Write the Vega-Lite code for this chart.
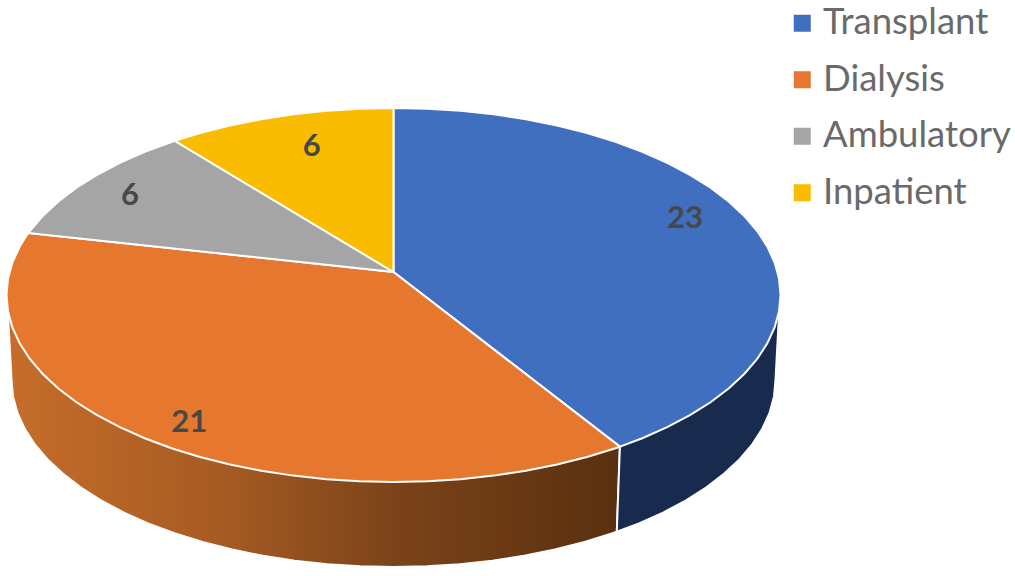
{"$schema":"https://vega.github.io/schema/vega-lite/v6.json","width":1015,"height":576,"padding":0,"autosize":{"type":"none"},"background":"white","config":{"view":{"stroke":null}},
"datasets":{
"sideDialysis":[{"i":0,"x":58.5,"y":-81.1},{"i":1,"x":57.7,"y":-126.6},{"i":2,"x":56.61,"y":-127.42},{"i":3,"x":49.35,"y":-132.1},{"i":4,"x":41.71,"y":-136.13},{"i":5,"x":33.76,"y":-139.47},{"i":6,"x":25.54,"y":-142.09},{"i":7,"x":17.13,"y":-143.98},{"i":8,"x":8.61,"y":-145.12},{"i":9,"x":0,"y":-145.5},{"i":10,"x":-8.61,"y":-145.12},{"i":11,"x":-17.13,"y":-143.98},{"i":12,"x":-25.54,"y":-142.09},{"i":13,"x":-33.76,"y":-139.47},{"i":14,"x":-41.71,"y":-136.13},{"i":15,"x":-49.35,"y":-132.1},{"i":16,"x":-56.61,"y":-127.42},{"i":17,"x":-63.44,"y":-122.1},{"i":18,"x":-69.79,"y":-116.21},{"i":19,"x":-75.6,"y":-109.78},{"i":20,"x":-80.86,"y":-102.86},{"i":21,"x":-85.47,"y":-95.5},{"i":22,"x":-89.45,"y":-87.76},{"i":23,"x":-92.75,"y":-79.7},{"i":24,"x":-95.33,"y":-71.38},{"i":25,"x":-97.2,"y":-62.86},{"i":26,"x":-98.32,"y":-54.22},{"i":27,"x":-98.7,"y":-45.5},{"i":28,"x":-99.6,"y":-11},{"i":29,"x":-99.6,"y":0},{"i":30,"x":0,"y":0}],
"sideTransplant":[{"i":0,"x":58.5,"y":-81.1},{"i":1,"x":57.7,"y":-126.6},{"i":2,"x":63.44,"y":-122.1},{"i":3,"x":69.79,"y":-116.21},{"i":4,"x":75.6,"y":-109.78},{"i":5,"x":80.86,"y":-102.86},{"i":6,"x":85.47,"y":-95.5},{"i":7,"x":89.45,"y":-87.76},{"i":8,"x":92.75,"y":-79.7},{"i":9,"x":95.33,"y":-71.38},{"i":10,"x":97.2,"y":-62.86},{"i":11,"x":98.32,"y":-54.22},{"i":12,"x":98.7,"y":-45.5},{"i":13,"x":99.6,"y":-11},{"i":14,"x":99.6,"y":0},{"i":15,"x":0,"y":0}],
"top":[
{"s":"Transplant","i":0,"x":0,"y":12.3},{"s":"Transplant","i":1,"x":0,"y":100},{"s":"Transplant","i":2,"x":8.72,"y":99.62},{"s":"Transplant","i":3,"x":17.36,"y":98.48},{"s":"Transplant","i":4,"x":25.88,"y":96.59},{"s":"Transplant","i":5,"x":34.2,"y":93.97},{"s":"Transplant","i":6,"x":42.26,"y":90.63},{"s":"Transplant","i":7,"x":50,"y":86.6},{"s":"Transplant","i":8,"x":57.36,"y":81.92},{"s":"Transplant","i":9,"x":64.28,"y":76.6},{"s":"Transplant","i":10,"x":70.71,"y":70.71},{"s":"Transplant","i":11,"x":76.6,"y":64.28},{"s":"Transplant","i":12,"x":81.92,"y":57.36},{"s":"Transplant","i":13,"x":86.6,"y":50},{"s":"Transplant","i":14,"x":90.63,"y":42.26},{"s":"Transplant","i":15,"x":93.97,"y":34.2},{"s":"Transplant","i":16,"x":96.59,"y":25.88},{"s":"Transplant","i":17,"x":98.48,"y":17.36},{"s":"Transplant","i":18,"x":99.62,"y":8.72},{"s":"Transplant","i":19,"x":100,"y":0},{"s":"Transplant","i":20,"x":99.62,"y":-8.72},{"s":"Transplant","i":21,"x":98.48,"y":-17.36},{"s":"Transplant","i":22,"x":96.59,"y":-25.88},{"s":"Transplant","i":23,"x":93.97,"y":-34.2},{"s":"Transplant","i":24,"x":90.63,"y":-42.26},{"s":"Transplant","i":25,"x":86.6,"y":-50},{"s":"Transplant","i":26,"x":81.92,"y":-57.36},{"s":"Transplant","i":27,"x":76.6,"y":-64.28},{"s":"Transplant","i":28,"x":70.71,"y":-70.71},{"s":"Transplant","i":29,"x":64.28,"y":-76.6},{"s":"Transplant","i":30,"x":58.5,"y":-81.1},
{"s":"Dialysis","i":0,"x":0,"y":12.3},{"s":"Dialysis","i":1,"x":58.5,"y":-81.1},{"s":"Dialysis","i":2,"x":57.36,"y":-81.92},{"s":"Dialysis","i":3,"x":50,"y":-86.6},{"s":"Dialysis","i":4,"x":42.26,"y":-90.63},{"s":"Dialysis","i":5,"x":34.2,"y":-93.97},{"s":"Dialysis","i":6,"x":25.88,"y":-96.59},{"s":"Dialysis","i":7,"x":17.36,"y":-98.48},{"s":"Dialysis","i":8,"x":8.72,"y":-99.62},{"s":"Dialysis","i":9,"x":0,"y":-100},{"s":"Dialysis","i":10,"x":-8.72,"y":-99.62},{"s":"Dialysis","i":11,"x":-17.36,"y":-98.48},{"s":"Dialysis","i":12,"x":-25.88,"y":-96.59},{"s":"Dialysis","i":13,"x":-34.2,"y":-93.97},{"s":"Dialysis","i":14,"x":-42.26,"y":-90.63},{"s":"Dialysis","i":15,"x":-50,"y":-86.6},{"s":"Dialysis","i":16,"x":-57.36,"y":-81.92},{"s":"Dialysis","i":17,"x":-64.28,"y":-76.6},{"s":"Dialysis","i":18,"x":-70.71,"y":-70.71},{"s":"Dialysis","i":19,"x":-76.6,"y":-64.28},{"s":"Dialysis","i":20,"x":-81.92,"y":-57.36},{"s":"Dialysis","i":21,"x":-86.6,"y":-50},{"s":"Dialysis","i":22,"x":-90.63,"y":-42.26},{"s":"Dialysis","i":23,"x":-93.97,"y":-34.2},{"s":"Dialysis","i":24,"x":-96.59,"y":-25.88},{"s":"Dialysis","i":25,"x":-98.48,"y":-17.36},{"s":"Dialysis","i":26,"x":-99.62,"y":-8.72},{"s":"Dialysis","i":27,"x":-100,"y":0},{"s":"Dialysis","i":28,"x":-99.62,"y":8.72},{"s":"Dialysis","i":29,"x":-98.48,"y":17.36},{"s":"Dialysis","i":30,"x":-96.59,"y":25.88},{"s":"Dialysis","i":31,"x":-94.4,"y":33.2},
{"s":"Ambulatory","i":0,"x":0,"y":12.3},{"s":"Ambulatory","i":1,"x":-94.4,"y":33.2},{"s":"Ambulatory","i":2,"x":-93.97,"y":34.2},{"s":"Ambulatory","i":3,"x":-90.63,"y":42.26},{"s":"Ambulatory","i":4,"x":-86.6,"y":50},{"s":"Ambulatory","i":5,"x":-81.92,"y":57.36},{"s":"Ambulatory","i":6,"x":-76.6,"y":64.28},{"s":"Ambulatory","i":7,"x":-70.71,"y":70.71},{"s":"Ambulatory","i":8,"x":-64.28,"y":76.6},{"s":"Ambulatory","i":9,"x":-56.5,"y":82.4},
{"s":"Inpatient","i":0,"x":0,"y":12.3},{"s":"Inpatient","i":1,"x":-56.5,"y":82.4},{"s":"Inpatient","i":2,"x":-50,"y":86.6},{"s":"Inpatient","i":3,"x":-42.26,"y":90.63},{"s":"Inpatient","i":4,"x":-34.2,"y":93.97},{"s":"Inpatient","i":5,"x":-25.88,"y":96.59},{"s":"Inpatient","i":6,"x":-17.36,"y":98.48},{"s":"Inpatient","i":7,"x":-8.72,"y":99.62},{"s":"Inpatient","i":8,"x":0,"y":100}],
"labels":[{"s":"Transplant","v":23,"x":75.3,"y":41.7},{"s":"Dialysis","v":21,"x":-52.8,"y":-67.4},{"s":"Ambulatory","v":6,"x":-68.1,"y":54},{"s":"Inpatient","v":6,"x":-21.1,"y":79.7}]
},
"encoding":{
"x":{"field":"x","type":"quantitative","axis":null,"scale":{"domain":[-101.68,160.59],"nice":false,"zero":false}},
"y":{"field":"y","type":"quantitative","axis":null,"scale":{"domain":[-150.27,157.75],"nice":false,"zero":false}}
},
"layer":[
{"data":{"name":"sideDialysis"},"mark":{"type":"line","interpolate":"linear-closed","stroke":"white","strokeWidth":2,"fill":{"gradient":"linear","x1":0,"y1":0,"x2":1,"y2":0,"stops":[{"offset":0,"color":"#C66D2B"},{"offset":0.35,"color":"#A65B22"},{"offset":0.63,"color":"#7C431A"},{"offset":1,"color":"#59300F"}]}},"encoding":{"order":{"field":"i","type":"quantitative"}}},
{"data":{"name":"sideTransplant"},"mark":{"type":"line","interpolate":"linear-closed","stroke":"white","strokeWidth":2,"fill":"#182B4E"},"encoding":{"order":{"field":"i","type":"quantitative"}}},
{"data":{"name":"top"},"mark":{"type":"line","interpolate":"linear-closed","stroke":"white","strokeWidth":2},"encoding":{"order":{"field":"i","type":"quantitative"},
"fill":{"field":"s","type":"nominal","scale":{"domain":["Transplant","Dialysis","Ambulatory","Inpatient"],"range":["#416FBF","#E5782E","#A5A5A5","#F9BC00"]},
"legend":{"title":null,"orient":"none","legendX":784,"legendY":5,"padding":0,"symbolType":"square","symbolSize":289,"symbolStrokeWidth":0,"symbolOpacity":1,"labelFont":"Lato","labelFontSize":36.5,"labelColor":"#6A6A6A","labelOffset":2.5,"rowPadding":19.5,"labelLimit":300}}}},
{"data":{"name":"labels"},"mark":{"type":"text","font":"Lato","fontWeight":"bold","fontSize":31,"fill":"#484848","align":"center","baseline":"middle","dy":1.5},"encoding":{"text":{"field":"v","type":"quantitative"}}}
]}
